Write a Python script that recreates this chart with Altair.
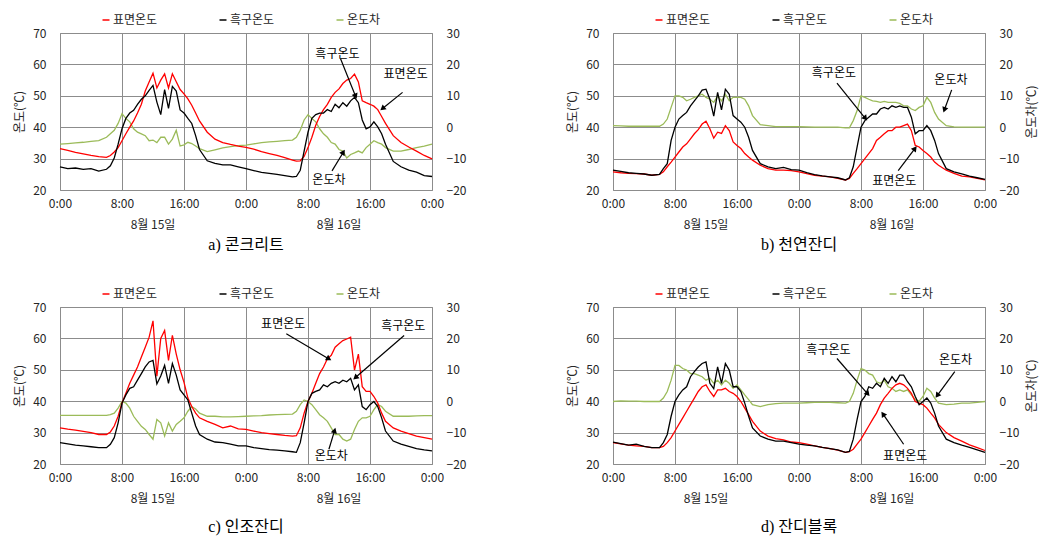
import math
import altair as alt
import pandas as pd

# ---------------- data ----------------
DAY_HOURS = [0, 1, 2, 3, 4, 5, 6, 6.5, 7, 7.5, 8, 8.5, 9, 9.5, 10, 10.5, 11, 11.5,
             12, 12.5, 13, 13.5, 14, 14.5, 15, 15.5, 16, 16.5, 17, 17.5, 18, 19, 20, 21, 22, 23]
HOURS = DAY_HOURS + [h + 24 for h in DAY_HOURS] + [48]

SERIES = ["표면온도", "흑구온도", "온도차"]
COLORS = ["#ff0000", "#000000", "#9bbb59"]

X_TICKS = [0, 8, 16, 24, 32, 40, 48]
Y_LEFT_TICKS = [20, 30, 40, 50, 60, 70]
Y_RIGHT_TICKS = [-20, -10, 0, 10, 20, 30]
DAY_LABEL_HOURS = [12, 36]
DAY_LABELS = ["8월 15일", "8월 16일"]

# a) concrete
A_SURFACE = [33.2, 32.6, 32.0, 31.5, 31.0, 30.6, 30.4, 31.0, 32.1, 33.5, 35.7, 37.9, 40.0, 42.0, 44.5, 47.3, 51.5, 54.4,
             57.2, 52.5, 55.0, 57.0, 52.5, 57.0, 54.5, 52.0, 50.6, 49.0, 47.0, 44.5, 42.0, 38.4, 36.2, 35.1, 34.5, 34.0,
             33.6, 33.0, 32.2, 31.6, 31.0, 30.3, 29.5, 29.2, 29.3, 30.7, 33.5, 36.8, 40.6, 43.4, 45.6, 47.3, 49.5, 51.1,
             52.2, 53.9, 55.0, 55.5, 56.9, 54.4, 48.4, 47.8, 47.3, 46.7, 45.6, 43.4, 41.2, 37.3, 35.1, 33.7, 32.4, 31.0,
             29.9]
A_GLOBE = [27.4, 26.8, 27.0, 26.6, 26.8, 26.0, 26.6, 27.7, 30.2, 34.6, 39.5, 42.8, 44.5, 45.4, 47.3, 48.9, 50.0, 51.7,
           53.3, 48.0, 44.0, 52.0, 46.0, 53.0, 51.5, 45.5, 44.5, 42.8, 41.2, 37.3, 32.9, 29.3, 28.5, 28.0, 28.0, 27.4,
           26.8, 26.2, 25.6, 25.3, 25.0, 24.6, 24.2, 24.3, 26.3, 32.4, 38.4, 42.8, 44.0, 44.5, 44.5, 45.6, 45.0, 47.3,
           46.2, 47.8, 46.7, 48.4, 49.5, 47.8, 42.3, 39.5, 40.1, 41.7, 40.1, 37.9, 34.6, 29.1, 27.4, 26.3, 25.7, 24.6,
           24.3]
A_DIFF = [-5.4, -5.2, -5.0, -4.8, -4.5, -4.3, -3.2, -2.1, -1.0, 1.2, 4.3, 2.8, 1.7, -0.5, -1.6, -2.1, -2.7, -4.3,
          -4.1, -4.9, -3.2, -3.2, -5.4, -3.8, -1.0, -6.0, -5.6, -4.8, -5.2, -6.0, -6.8, -7.8, -7.2, -6.6, -6.2, -5.9,
          -5.7, -5.3, -4.9, -4.7, -4.5, -4.3, -4.1, -3.2, -1.0, 2.3, 4.0, 2.8, 1.7, -0.5, -2.1, -3.2, -4.9, -5.4,
          -7.1, -7.6, -9.8, -8.7, -8.2, -7.6, -8.2, -6.5, -5.4, -4.3, -4.9, -5.4, -6.5, -7.6, -7.6, -7.1, -6.5, -6.0,
          -5.4]

# b) natural grass
B_SURFACE = [25.8, 25.5, 25.3, 25.2, 25.1, 24.7, 25.0, 25.8, 27.4, 28.9, 30.5, 32.1, 33.7, 34.7, 36.3, 37.9, 39.2, 41.0,
             41.9, 39.5, 36.5, 38.4, 38.0, 40.5, 38.9, 35.3, 34.2, 33.2, 31.6, 30.5, 29.5, 27.9, 26.8, 26.3, 26.3, 26.2,
             25.8, 25.2, 24.7, 24.4, 24.2, 23.7, 23.2, 23.7, 25.3, 26.8, 28.4, 30.0, 31.6, 33.2, 35.8, 36.8, 37.9, 38.9,
             38.9, 40.0, 40.0, 40.5, 41.0, 38.9, 34.2, 33.7, 32.6, 31.6, 30.5, 28.9, 27.9, 26.3, 25.3, 24.4, 24.2, 23.7,
             23.2]
B_GLOBE = [26.3, 25.9, 25.5, 25.3, 25.1, 24.7, 25.0, 26.8, 28.4, 35.8, 40.0, 42.6, 43.7, 44.7, 46.8, 48.4, 50.0, 51.8,
           52.1, 48.9, 43.5, 51.1, 45.5, 52.1, 50.5, 43.7, 42.6, 41.6, 40.0, 36.8, 32.6, 28.4, 27.4, 26.8, 27.2, 26.5,
           26.3, 25.5, 24.9, 24.5, 24.2, 23.9, 23.2, 23.9, 27.4, 33.7, 40.0, 42.1, 43.2, 44.2, 44.2, 45.8, 46.3, 45.8,
           46.8, 46.3, 46.8, 46.3, 46.3, 43.2, 37.9, 38.9, 38.9, 40.5, 38.9, 35.8, 31.6, 26.8, 25.8, 25.1, 24.4, 23.9,
           23.4]
B_DIFF = [0.5, 0.4, 0.3, 0.3, 0.3, 0.3, 0.3, 1.0, 2.6, 6.3, 10.0, 10.0, 9.5, 8.4, 8.9, 9.5, 10.0, 10.5,
          9.5, 8.9, 7.9, 10.0, 8.4, 10.5, 8.4, 9.5, 9.5, 9.5, 8.9, 6.8, 3.7, 0.8, 0.5, 0.2, 0.2, 0.2,
          0.2, 0.1, 0.0, 0.0, 0.0, 0.0, -0.2, -0.2, 2.1, 5.3, 10.0, 9.5, 8.9, 8.4, 8.2, 7.9, 8.2, 7.9,
          7.9, 7.9, 7.6, 6.8, 6.8, 5.8, 5.3, 6.3, 6.8, 9.5, 7.9, 4.7, 2.6, 0.5, 0.1, 0.0, 0.0, 0.0,
          0.0]

# c) artificial grass
C_SURFACE = [31.5, 31.1, 30.8, 30.4, 30.0, 29.4, 29.4, 30.2, 32.1, 35.2, 39.4, 42.5, 45.7, 48.3, 50.9, 54.1, 57.2, 60.4,
             65.6, 48.0, 60.0, 62.5, 53.0, 61.0, 55.0, 50.0, 46.0, 41.0, 38.3, 36.2, 34.7, 33.6, 32.6, 31.5, 32.1, 31.2,
             31.0, 30.5, 30.0, 29.7, 29.4, 29.1, 28.9, 29.0, 31.5, 36.2, 39.9, 42.5, 45.7, 48.8, 50.9, 53.5, 54.6, 57.2,
             58.3, 59.3, 59.8, 60.4, 49.9, 55.0, 44.6, 43.1, 43.1, 41.5, 39.4, 36.2, 33.6, 31.5, 30.5, 29.7, 28.9, 28.4,
             27.9]
C_GLOBE = [26.8, 26.4, 26.0, 25.8, 25.5, 25.2, 25.2, 26.3, 28.4, 33.1, 39.4, 42.0, 44.1, 44.6, 46.7, 48.8, 50.9, 52.5,
           53.0, 45.5, 48.0, 51.4, 45.7, 52.0, 48.3, 43.6, 42.0, 40.4, 36.2, 32.1, 29.4, 27.9, 27.0, 26.8, 26.3, 25.8,
           25.8, 25.2, 24.9, 24.6, 24.4, 24.2, 23.9, 23.7, 26.8, 33.1, 39.9, 42.5, 43.1, 43.6, 45.2, 44.6, 45.7, 46.2,
           45.7, 46.7, 46.2, 47.3, 43.6, 45.2, 38.3, 37.3, 38.9, 39.9, 38.3, 34.7, 30.5, 27.3, 26.3, 25.6, 24.9, 24.5,
           24.2]
C_DIFF = [-4.5, -4.5, -4.5, -4.5, -4.5, -4.5, -4.5, -4.3, -3.8, -2.2, -0.1, -0.6, -2.2, -4.8, -6.4, -8.0, -9.0, -10.6,
          -12.1, -5.8, -6.9, -11.1, -6.9, -9.5, -7.4, -6.4, -5.3, -3.2, -1.7, -2.5, -3.8, -4.8, -4.8, -5.0, -5.0, -4.9,
          -4.8, -4.7, -4.6, -4.4, -4.3, -4.2, -4.1, -3.2, -1.1, 0.4, -0.1, -1.1, -2.7, -4.3, -5.3, -6.4, -8.5, -10.6,
          -10.6, -12.1, -12.7, -12.1, -9.0, -6.4, -5.3, -5.3, -4.8, -2.7, -1.1, -1.7, -3.2, -4.8, -4.8, -4.8, -4.7, -4.6,
          -4.6]

# d) turf block
D_SURFACE = [26.8, 26.4, 26.0, 25.8, 25.6, 25.2, 25.2, 25.6, 26.8, 28.4, 30.5, 32.6, 34.7, 36.8, 38.9, 41.0, 43.1, 44.6,
             45.2, 43.1, 41.5, 43.6, 43.6, 44.1, 43.1, 42.5, 41.5, 39.9, 37.8, 35.7, 33.6, 30.5, 28.9, 28.1, 27.7, 27.0,
             26.8, 26.3, 25.8, 25.3, 24.9, 24.4, 23.7, 23.9, 24.7, 26.3, 27.9, 30.0, 32.1, 34.2, 36.2, 38.9, 41.0, 42.5,
             44.1, 45.2, 45.7, 45.2, 44.1, 42.5, 39.9, 39.4, 38.9, 37.8, 36.2, 34.7, 32.6, 30.0, 28.4, 27.3, 26.1, 25.2,
             24.3]
D_GLOBE = [27.0, 26.5, 26.0, 26.3, 25.6, 25.2, 25.2, 26.8, 29.4, 35.2, 39.9, 42.0, 43.6, 44.6, 47.8, 49.4, 50.9, 52.0,
           52.5, 45.7, 44.0, 50.9, 45.7, 52.0, 49.9, 44.6, 44.6, 43.1, 39.4, 35.2, 31.5, 28.9, 27.9, 27.3, 27.3, 26.8,
           26.3, 26.0, 25.8, 25.3, 24.9, 24.5, 23.7, 24.0, 27.9, 34.2, 39.9, 41.5, 44.6, 44.1, 45.7, 44.6, 47.3, 45.7,
           47.8, 46.2, 48.3, 48.3, 46.2, 44.6, 41.5, 38.9, 39.9, 41.0, 39.4, 36.2, 32.1, 27.9, 26.8, 26.0, 25.3, 24.5,
           23.7]
D_DIFF = [-0.1, 0.1, 0.0, 0.0, -0.1, -0.1, -0.1, 1.0, 3.1, 6.7, 11.4, 11.4, 10.4, 9.9, 8.8, 8.8, 8.3, 7.8,
          6.7, 7.3, 5.7, 6.7, 5.2, 6.7, 5.7, 4.1, 5.2, 3.6, 2.0, 0.5, -1.1, -1.7, -1.1, -0.8, -0.6, -0.6,
          -0.6, -0.5, -0.4, -0.4, -0.4, -0.5, -0.6, -0.1, 2.5, 6.7, 10.4, 9.9, 8.8, 8.3, 6.2, 5.7, 6.7, 4.6,
          4.1, 3.1, 3.6, 3.1, 3.6, 2.0, 0.5, 0.0, 1.5, 4.1, 3.1, 1.0, -0.6, -1.1, -0.9, -0.6, -0.6, -0.4,
          -0.1]

# annotations (label text, label position, arrow start, arrow tip) in data units
A_NOTE_TEXT = ["흑구온도", "표면온도", "온도차"]
A_NOTE_H = [35.8, 44.6, 34.7]
A_NOTE_V = [63.4, 56.8, 23.1]
A_ARROW_H1 = [36.2, 44.2, 35.1]
A_ARROW_V1 = [61.8, 51.1, 26.1]
A_ARROW_H2 = [38.1, 41.7, 36.5]
A_ARROW_V2 = [50.1, 46.1, 31.8]

B_NOTE_TEXT = ["흑구온도", "온도차", "표면온도"]
B_NOTE_H = [28.5, 43.6, 36.3]
B_NOTE_V = [57.2, 55.1, 23.0]
B_ARROW_H1 = [28.9, 43.7, 36.8]
B_ARROW_V1 = [54.0, 51.9, 26.2]
B_ARROW_H2 = [32.5, 42.8, 38.9]
B_ARROW_V2 = [43.0, 45.8, 33.0]

C_NOTE_TEXT = ["표면온도", "흑구온도", "온도차"]
C_NOTE_H = [28.8, 44.3, 35.0]
C_NOTE_V = [64.7, 64.0, 22.5]
C_ARROW_H1 = [29.2, 44.4, 34.7]
C_ARROW_V1 = [61.5, 60.9, 24.7]
C_ARROW_H2 = [34.6, 38.2, 35.4]
C_ARROW_V2 = [53.6, 47.7, 30.4]

D_NOTE_TEXT = ["흑구온도", "온도차", "표면온도"]
D_NOTE_H = [27.8, 44.2, 37.7]
D_NOTE_V = [56.2, 53.0, 22.6]
D_ARROW_H1 = [28.9, 44.1, 37.5]
D_ARROW_V1 = [53.6, 49.4, 26.3]
D_ARROW_H2 = [32.8, 41.9, 34.9]
D_ARROW_V2 = [42.5, 42.0, 35.7]

CAPTIONS = ["a) 콘크리트", "b) 천연잔디", "c) 인조잔디", "d) 잔디블록"]

# ---------------- styling ----------------
W, H = 372, 157
GRID = "#8c8c8c"
TEXT = "#262626"
FONT = "Noto Sans CJK KR"
SERIF = "Liberation Serif, Noto Sans CJK KR"


def panel(surface, globe, diff, caption, right_title, caption_offset,
          nt, nh, nv, h1, v1, h2, v2):
    n = len(HOURS)
    lines_df = pd.DataFrame({"h": HOURS + HOURS, "v": surface + globe,
                             "s": [SERIES[0]] * n + [SERIES[1]] * n})
    diff_df = pd.DataFrame({"h": HOURS, "d": diff, "s": [SERIES[2]] * n})
    note_df = pd.DataFrame({"h": nh, "v": nv, "t": nt})
    ppx, ppy = W / 48.0, H / 50.0
    ang = [math.degrees(math.atan2((b - a) * ppx, (d - c) * ppy)) % 360
           for a, b, c, d in zip(h1, h2, v1, v2)]
    arrow_df = pd.DataFrame({"h": h1, "v": v1, "h2": h2, "v2": v2, "ang": ang})
    day_df = pd.DataFrame({"h": DAY_LABEL_HOURS, "t": DAY_LABELS})

    xscale = alt.Scale(domain=[0, 48], nice=False, zero=False)
    xaxis = alt.Axis(values=X_TICKS, labelExpr="(datum.value % 24) + ':00'",
                     grid=True, gridColor=GRID, ticks=False, domain=False,
                     labelFlush=False, labelPadding=8, title=None)
    yscale = alt.Scale(domain=[20, 70], nice=False, zero=False)
    yaxis = alt.Axis(values=Y_LEFT_TICKS, grid=True, gridColor=GRID, ticks=False,
                     domain=False, labelFlush=False, labelPadding=14,
                     title="온도(℃)", titlePadding=6)
    rscale = alt.Scale(domain=[-20, 30], nice=False, zero=False)
    if right_title:
        raxis = alt.Axis(orient="right", values=Y_RIGHT_TICKS, grid=False, ticks=False,
                         domain=False, labelFlush=False, labelPadding=14,
                         title="온도차(℃)", titleAngle=270, titleBaseline="top",
                         titlePadding=8)
    else:
        raxis = alt.Axis(orient="right", values=Y_RIGHT_TICKS, grid=False, ticks=False,
                         domain=False, labelFlush=False, labelPadding=14, title=None)

    legend = alt.Legend(orient="none", legendX=40, legendY=-19, direction="horizontal",
                        title=None, symbolType="stroke", symbolSize=49,
                        symbolStrokeWidth=1.5, columnPadding=58, labelOffset=1,
                        labelFontSize=12, padding=0)
    color = alt.Color("s:N", scale=alt.Scale(domain=SERIES, range=COLORS), legend=legend)

    x = alt.X("h:Q", scale=xscale, axis=xaxis)
    y = alt.Y("v:Q", scale=yscale, axis=yaxis)

    lines = alt.Chart(lines_df).mark_line(strokeWidth=1.3).encode(x=x, y=y, color=color)
    rules = alt.Chart(arrow_df).mark_rule(color="black", strokeWidth=1.2).encode(
        x=x, y=y, x2="h2:Q", y2="v2:Q")
    heads = alt.Chart(arrow_df).mark_point(shape="triangle", filled=True, size=40,
                                           color="black", opacity=1).encode(
        x=alt.X("h2:Q", scale=xscale, axis=xaxis),
        y=alt.Y("v2:Q", scale=yscale, axis=yaxis),
        angle=alt.Angle("ang:Q", scale=None))
    notes = alt.Chart(note_df).mark_text(fontSize=12, font=FONT, color="black",
                                         align="center", baseline="middle").encode(
        x=x, y=y, text="t:N")
    days = alt.Chart(day_df).mark_text(fontSize=12, font=FONT, color=TEXT,
                                       align="center", baseline="middle").encode(
        x=x, y=alt.value(H + 35), text="t:N")

    inner = alt.layer(lines, rules, heads, notes, days)
    green = alt.Chart(diff_df).mark_line(strokeWidth=1.3).encode(
        x=x, y=alt.Y("d:Q", scale=rscale, axis=raxis), color=color)

    return alt.layer(green, inner).resolve_scale(y="independent").properties(
        width=W, height=H,
        title=alt.TitleParams(text=caption, orient="bottom", anchor="middle", frame="group",
                              font=SERIF, fontSize=16, fontWeight="normal",
                              color="black", offset=caption_offset))


pa = panel(A_SURFACE, A_GLOBE, A_DIFF, CAPTIONS[0], False, 6,
           A_NOTE_TEXT, A_NOTE_H, A_NOTE_V, A_ARROW_H1, A_ARROW_V1, A_ARROW_H2, A_ARROW_V2)
pb = panel(B_SURFACE, B_GLOBE, B_DIFF, CAPTIONS[1], True, 6,
           B_NOTE_TEXT, B_NOTE_H, B_NOTE_V, B_ARROW_H1, B_ARROW_V1, B_ARROW_H2, B_ARROW_V2)
pc = panel(C_SURFACE, C_GLOBE, C_DIFF, CAPTIONS[2], False, 14,
           C_NOTE_TEXT, C_NOTE_H, C_NOTE_V, C_ARROW_H1, C_ARROW_V1, C_ARROW_H2, C_ARROW_V2)
pd_ = panel(D_SURFACE, D_GLOBE, D_DIFF, CAPTIONS[3], True, 14,
            D_NOTE_TEXT, D_NOTE_H, D_NOTE_V, D_ARROW_H1, D_ARROW_V1, D_ARROW_H2, D_ARROW_V2)

row1 = alt.hconcat(pa, pb, spacing=99).resolve_scale(color="independent").resolve_legend(color="independent")
row2 = alt.hconcat(pc, pd_, spacing=99).resolve_scale(color="independent").resolve_legend(color="independent")

chart = alt.vconcat(row1, row2, spacing=33).resolve_scale(
    color="independent").resolve_legend(color="independent").configure(
    font=FONT).configure_view(stroke=GRID, strokeWidth=1).configure_axis(
    labelFont=FONT, labelFontSize=12, labelColor=TEXT,
    titleFont=FONT, titleFontSize=12, titleFontWeight="normal", titleColor=TEXT).configure_legend(
    labelFont=FONT, labelFontSize=12, labelColor=TEXT)

chart.save("out.html", embed_options={"renderer": "svg", "actions": False})
